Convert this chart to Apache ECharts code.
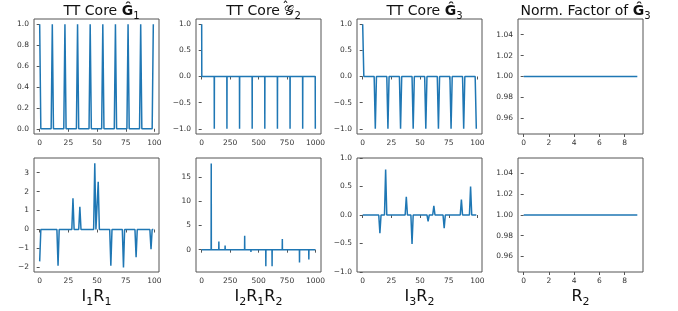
<!DOCTYPE html>
<html>
<head>
<meta charset="utf-8">
<title>TT cores</title>
<script src="https://cdn.jsdelivr.net/npm/echarts@6/dist/echarts.min.js"></script>
<style>
  html, body { margin: 0; padding: 0; background: #fff; }
  #chart { width: 678px; height: 311px; }
</style>
</head>
<body>
<div id="chart"></div>
<script>
// true TT cores (top row), [index, value]
const coreG1 = [[0,1],[1,0],[10,0],[11,1],[12,0],[21,0],[22,1],[23,0],[32,0],[33,1],[34,0],
  [43,0],[44,1],[45,0],[54,0],[55,1],[56,0],[65,0],[66,1],[67,0],[76,0],[77,1],[78,0],
  [87,0],[88,1],[89,0],[98,0],[99,1]];
const coreG2 = [[0,1],[1,0],[110,0],[111,-1],[112,0],[221,0],[222,-1],[223,0],[332,0],[333,-1],[334,0],
  [443,0],[444,-1],[445,0],[554,0],[555,-1],[556,0],[665,0],[666,-1],[667,0],[776,0],[777,-1],[778,0],
  [887,0],[888,-1],[889,0],[998,0],[999,-1]];
const coreG3 = [[0,1],[1,0],[10,0],[11,-1],[12,0],[21,0],[22,-1],[23,0],[32,0],[33,-1],[34,0],
  [43,0],[44,-1],[45,0],[54,0],[55,-1],[56,0],[65,0],[66,-1],[67,0],[76,0],[77,-1],[78,0],
  [87,0],[88,-1],[89,0],[98,0],[99,-1]];
const normG3 = [1, 1, 1, 1, 1, 1, 1, 1, 1, 1];

// estimated cores (bottom row)
const estG1 = [[0,-1.68],[1,0],[15,0],[16,-1.91],[17,0],[28,0],[29,1.65],[30,0],[34,0],[35,1.2],[36,0],
  [47,0],[48,3.49],[49,0],[50,0],[51,2.52],[52,0],[61,0],[62,-1.91],[63,0],[72,0],[73,-2.0],[74,0],
  [83,0],[84,-1.46],[85,0],[96,0],[97,-1.04],[98,0],[99,0]];
const estG2 = [[0,0],[83,0],[84,17.75],[85,0],[150,0],[151,1.68],[152,0],[205,0],[206,0.87],[207,0],
  [377,0],[378,2.89],[379,0],[432,0],[433,-0.47],[434,0],[563,0],[564,-3.43],[565,0],
  [618,0],[619,-3.43],[620,0],[708,0],[709,2.22],[710,0],[859,0],[860,-2.62],[861,0],
  [941,0],[942,-2.02],[943,0],[999,0]];
const estG3 = [[0,0],[8,0],[9,-0.03],[10,0],[14,0],[15,-0.32],[16,0],[19,0],[20,0.8],[21,0],
  [37,0],[38,0.32],[39,0],[42,0],[43,-0.51],[44,0],[56,0],[57,-0.11],[58,0],[61,0],[62,0.16],[63,0],
  [70,0],[71,-0.23],[72,0],[85,0],[86,0.27],[87,0],[93,0],[94,0.5],[95,0],[99,0]];
const estNorm = [1, 1, 1, 1, 1, 1, 1, 1, 1, 1];

// tick labels
const ticks100 = [0, 25, 50, 75, 100];
const ticks1000 = [0, 250, 500, 750, 1000];
const ticks10 = [0, 2, 4, 6, 8];
const ticksUnit = [0, 0.2, 0.4, 0.6, 0.8, 1.0];
const ticksSym = [-1, -0.5, 0, 0.5, 1];
const ticksNorm = [0.96, 0.98, 1.0, 1.02, 1.04];
const ticksEst1 = [-2, -1, 0, 1, 2, 3];
const ticksEst2 = [0, 5, 10, 15];

const titles = [
  '{t|TT Core }{b|G\u0302}{s|1}',
  '{t|TT Core }{c|\u{1D4A2}}{s|2}',
  '{t|TT Core }{b|G\u0302}{s|3}',
  '{t|Norm. Factor of }{b|G\u0302}{s|3}'
];
const xNames = [
  '{t|I}{s|1}{t|R}{s|1}',
  '{t|I}{s|2}{t|R}{s|1}{t|R}{s|2}',
  '{t|I}{s|3}{t|R}{s|2}',
  '{t|R}{s|2}'
];

const FONT = 'DejaVu Sans';
const LINE = '#1f77b4';
const lefts = [34, 196, 357, 518];
const tops = [19, 158];
const W = 125, H = [115, 114];
const TITLE_TOP = -4;

function fmt(d) {
  return function (v) { return v.toFixed(d).replace('-', '\u2212'); };
}

let grids = [], xAxes = [], yAxes = [], series = [], titleList = [];

// panel specs: data, x range, x ticks, y range, y ticks, decimals
const panels = [
  [coreG1, -4.95, 103.95, ticks100, -0.05, 1.05, ticksUnit, 1],
  [coreG2, -49.95, 1048.95, ticks1000, -1.1, 1.1, ticksSym, 1],
  [coreG3, -4.95, 103.95, ticks100, -1.1, 1.1, ticksSym, 1],
  [normG3.map((v, i) => [i, v]), -0.45, 9.45, ticks10, 0.945, 1.055, ticksNorm, 2],
  [estG1, -4.95, 103.95, ticks100, -2.24, 3.77, ticksEst1, 0],
  [estG2, -49.95, 1048.95, ticks1000, -4.6, 18.9, ticksEst2, 0],
  [estG3, -4.95, 103.95, ticks100, -1, 1, ticksSym, 1],
  [estNorm.map((v, i) => [i, v]), -0.45, 9.45, ticks10, 0.945, 1.055, ticksNorm, 2]
];

const titleRich = {
  t: { fontFamily: FONT, fontSize: 14, color: '#111', lineHeight: 20, verticalAlign: 'middle' },
  b: { fontFamily: FONT, fontSize: 14, fontWeight: 'bold', color: '#111', lineHeight: 20, verticalAlign: 'middle' },
  c: { fontFamily: FONT, fontSize: 14, color: '#111', lineHeight: 20, verticalAlign: 'middle' },
  s: { fontFamily: FONT, fontSize: 10, color: '#111', lineHeight: 10, verticalAlign: 'bottom' }
};
const nameRich = {
  t: { fontFamily: FONT, fontSize: 16, color: '#111', lineHeight: 22, verticalAlign: 'middle' },
  s: { fontFamily: FONT, fontSize: 11, color: '#111', lineHeight: 11, verticalAlign: 'bottom' }
};

panels.forEach(function (p, i) {
  const row = Math.floor(i / 4), col = i % 4;
  grids.push({
    left: lefts[col], top: tops[row], width: W, height: H[row],
    show: true, borderColor: '#555', borderWidth: 1, backgroundColor: 'transparent'
  });
  xAxes.push({
    type: 'value', gridIndex: i, min: p[1], max: p[2],
    splitLine: { show: false }, axisLine: { show: false },
    axisTick: { show: true, length: 3, lineStyle: { color: '#555' }, customValues: p[3] },
    axisLabel: { customValues: p[3], formatter: fmt(0), fontFamily: FONT, fontSize: 7.5, color: '#333', margin: 5 },
    name: row === 1 ? xNames[col] : '',
    nameLocation: 'middle', nameGap: 11,
    nameTextStyle: { fontFamily: FONT, fontSize: 16, color: '#111', lineHeight: 22, rich: nameRich }
  });
  yAxes.push({
    type: 'value', gridIndex: i, min: p[4], max: p[5],
    splitLine: { show: false }, axisLine: { show: false },
    axisTick: { show: true, length: 3, lineStyle: { color: '#555' }, customValues: p[6] },
    axisLabel: { customValues: p[6], formatter: fmt(p[7]), fontFamily: FONT, fontSize: 7.5, color: '#333', margin: 5 }
  });
  series.push({
    type: 'line', xAxisIndex: i, yAxisIndex: i, data: p[0],
    showSymbol: false, symbol: 'none', animation: false,
    lineStyle: { color: LINE, width: 1.5 }
  });
  if (row === 0) {
    titleList.push({
      text: titles[col], left: lefts[col] + W / 2, top: TITLE_TOP, textAlign: 'center',
      textStyle: { fontFamily: FONT, fontSize: 14, fontWeight: 'normal', color: '#111', lineHeight: 20, rich: titleRich }
    });
  }
});

// hat over the calligraphic G in the second title
const ctx = document.createElement('canvas').getContext('2d');
function textW(s, font) { ctx.font = font; return ctx.measureText(s).width; }
const wPre = textW('TT Core ', '14px ' + FONT);
const wG = textW('\u{1D4A2}', '14px ' + FONT);
const wSub = textW('2', '10px ' + FONT);
const startX = lefts[1] + W / 2 - (wPre + wG + wSub) / 2;

const myChart = echarts.init(document.getElementById('chart'), null, { renderer: 'canvas' });
myChart.setOption({
  backgroundColor: '#fff',
  animation: false,
  title: titleList,
  grid: grids,
  xAxis: xAxes,
  yAxis: yAxes,
  series: series,
  graphic: [{
    type: 'text', x: startX + wPre + wG / 2 + 1, y: 8,
    style: { text: '\u02C6', fontFamily: FONT, fontSize: 13, fill: '#111', align: 'center', verticalAlign: 'middle' },
    z: 10
  }]
});
</script>
</body>
</html>
